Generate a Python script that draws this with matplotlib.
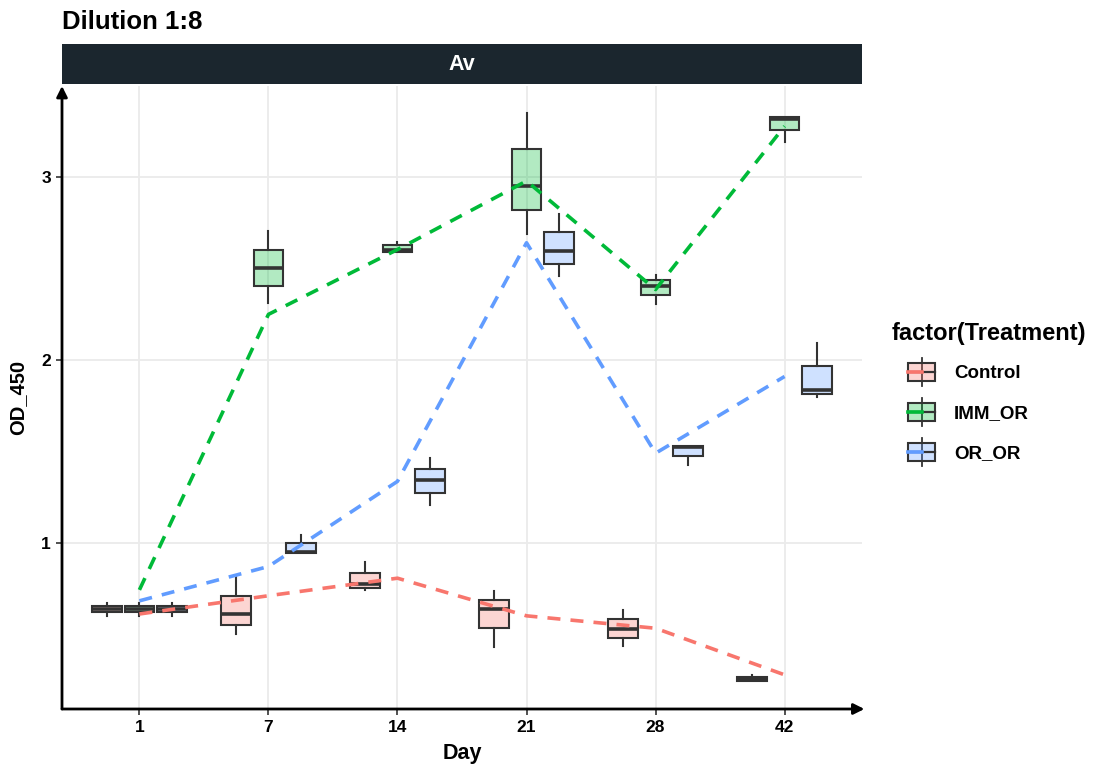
import numpy as np
import matplotlib
matplotlib.use("Agg")
import matplotlib.pyplot as plt
from matplotlib.patches import Rectangle
from matplotlib.lines import Line2D
from matplotlib.legend_handler import HandlerBase
from matplotlib.colors import to_rgba

plt.rcParams['font.family'] = ['Liberation Sans', 'DejaVu Sans']

# data
days = ["1", "7", "14", "21", "28", "42"]
treatments = ["Control", "IMM_OR", "OR_OR"]
colors = {"Control": "#F8766D", "IMM_OR": "#00BA38", "OR_OR": "#619CFF"}

# box stats per treatment: (whislo, q1, med, q3, whishi) for each day
control_box = [(0.60, 0.62, 0.635, 0.655, 0.67),
               (0.50, 0.55, 0.61, 0.71, 0.81),
               (0.742, 0.752, 0.774, 0.834, 0.894),
               (0.432, 0.532, 0.638, 0.688, 0.737),
               (0.436, 0.478, 0.527, 0.582, 0.633),
               (0.245, 0.245, 0.255, 0.267, 0.277)]
imm_box = [(0.60, 0.62, 0.635, 0.655, 0.67),
           (2.31, 2.405, 2.505, 2.605, 2.705),
           (2.59, 2.59, 2.605, 2.627, 2.648),
           (2.688, 2.819, 2.952, 3.153, 3.35),
           (2.308, 2.355, 2.408, 2.436, 2.463),
           (3.196, 3.257, 3.32, 3.33, 3.33)]
oror_box = [(0.60, 0.62, 0.635, 0.655, 0.67),
            (0.944, 0.944, 0.952, 0.998, 1.04),
            (1.208, 1.272, 1.345, 1.405, 1.464),
            (2.459, 2.527, 2.596, 2.70, 2.80),
            (1.427, 1.473, 1.524, 1.532, 1.532),
            (1.80, 1.816, 1.835, 1.97, 2.094)]

# mean lines (dashed) per treatment
control_mean = [0.61, 0.71, 0.806, 0.60, 0.532, 0.277]
imm_mean = [0.742, 2.25, 2.605, 2.98, 2.386, 3.28]
oror_mean = [0.682, 0.87, 1.336, 2.642, 1.49, 1.91]

boxes = {"Control": control_box, "IMM_OR": imm_box, "OR_OR": oror_box}
means = {"Control": control_mean, "IMM_OR": imm_mean, "OR_OR": oror_mean}

W, H = 1094, 769
fig = plt.figure(figsize=(W / 100, H / 100), dpi=100)
ax = fig.add_axes([62 / W, 1 - 709 / H, 800 / W, (709 - 86) / H])

x = np.arange(1, len(days) + 1)
edge = "#333333"
offsets = [-0.25, 0.0, 0.25]

for k, tr in enumerate(treatments):
    stats = []
    for s in boxes[tr]:
        stats.append(dict(whislo=s[0], q1=s[1], med=s[2], q3=s[3], whishi=s[4], fliers=[]))
    ax.bxp(stats, positions=x + offsets[k], widths=0.23, patch_artist=True,
           showcaps=False, showfliers=False, manage_ticks=False,
           boxprops=dict(facecolor=to_rgba(colors[tr], 0.3), edgecolor=edge, linewidth=1.5),
           medianprops=dict(color=edge, linewidth=2.6),
           whiskerprops=dict(color=edge, linewidth=1.5), zorder=3)

for tr in treatments:
    ax.plot(x, means[tr], color=colors[tr], lw=2.6, dashes=(3.6, 2.8), zorder=5)

ax.set_xlim(0.4, 6.6)
ax.set_ylim(0.09, 3.5)
ax.set_xticks(x)
ax.set_xticklabels(days)
ax.set_yticks([1, 2, 3])
ax.grid(True, color="#ebebeb", lw=1.3)
ax.set_axisbelow(True)
for sp in ax.spines.values():
    sp.set_visible(False)
ax.tick_params(axis="both", length=4, width=1.2, color="#333333", labelsize=12.5, pad=4)
for lab in ax.get_xticklabels() + ax.get_yticklabels():
    lab.set_fontweight("bold")
    lab.set_color("black")

ax.annotate("", xy=(1.003, 0), xytext=(0, 0), xycoords="axes fraction",
            arrowprops=dict(arrowstyle="-|>", lw=2, color="black", mutation_scale=16, shrinkA=0, shrinkB=0))
ax.annotate("", xy=(0, 1.0), xytext=(0, 0), xycoords="axes fraction",
            arrowprops=dict(arrowstyle="-|>", lw=2, color="black", mutation_scale=16, shrinkA=0, shrinkB=0))

ax.set_xlabel("Day", fontsize=15.5, fontweight="bold", labelpad=6)
ax.set_ylabel("OD_450", fontsize=14.5, fontweight="bold", labelpad=10)

# facet strip
strip = fig.add_axes([62 / W, 1 - 84 / H, 800 / W, 40 / H])
strip.set_facecolor("#1b262e")
strip.set_xticks([])
strip.set_yticks([])
for sp in strip.spines.values():
    sp.set_visible(False)
strip.text(0.5, 0.5, "Av", color="white", fontsize=15.5, fontweight="bold",
           ha="center", va="center", transform=strip.transAxes)

fig.text(62 / W, 1 - 22 / H, "Dilution 1:8", fontsize=18.5, fontweight="bold", va="center")


class BoxKey(HandlerBase):
    def create_artists(self, legend, orig_handle, xdescent, ydescent, width, height, fontsize, trans):
        c = orig_handle.get_color()
        w = height * 1.6
        x0 = (width - w) / 2 - xdescent
        cy = height / 2 - ydescent
        bh = height * 1.1
        arts = [
            Line2D([x0 + w / 2] * 2, [cy - height * 0.85, cy + height * 0.85], color=edge, lw=1.3, transform=trans),
            Rectangle((x0, cy - bh / 2), w, bh, facecolor=to_rgba(c, 0.3), edgecolor=edge, lw=1.5, transform=trans),
            Line2D([x0, x0 + w], [cy, cy], color=edge, lw=1.6, transform=trans),
            Line2D([x0, x0 + w * 0.5], [cy, cy], color=c, lw=2.6, transform=trans),
        ]
        return arts


# legend title placed on its own, keys are indented under it
fig.text(892 / W, 1 - 333 / H, "factor(Treatment)", fontsize=17, fontweight="bold", va="center")

handles = [Line2D([], [], color=colors[t]) for t in treatments]
leg = fig.legend(handles, treatments, handler_map={Line2D: BoxKey()},
                 loc="center left", bbox_to_anchor=(895.5 / W, 1 - 413 / H),
                 frameon=False, borderaxespad=0, borderpad=0.4,
                 prop=dict(size=13.5, weight="bold"), labelspacing=1.13,
                 handlelength=2.0, handleheight=1.0, handletextpad=0.72)

fig.savefig("out.png", dpi=100)
